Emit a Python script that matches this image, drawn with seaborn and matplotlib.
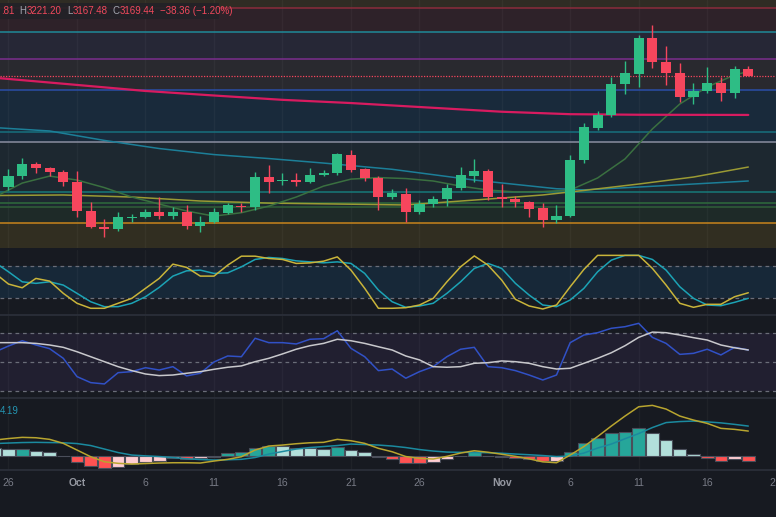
import numpy as np
import pandas as pd
import matplotlib
matplotlib.use("Agg")
import matplotlib.pyplot as plt
import matplotlib.dates as mdates
from matplotlib.patches import Rectangle
import seaborn as sns

# ---- data: daily candles Sep 25 .. Nov 19 ----
dates = pd.date_range("2024-09-25", "2024-11-19", freq="D")

opens = [2661, 2581, 2639, 2703, 2682, 2661,
         2608, 2454, 2369, 2358, 2417, 2422, 2448, 2427, 2448, 2374,
         2395, 2443, 2480, 2475, 2634, 2613, 2618, 2610, 2646, 2654,
         2752, 2675, 2627, 2530, 2544, 2447, 2489, 2516, 2574, 2641, 2666,
         2530, 2517, 2500, 2468, 2406, 2429, 2724, 2895, 2963, 3125,
         3180, 3369, 3242, 3187, 3060, 3091, 3134, 3078, 3207.80]
highs = [2671, 2676, 2735, 2714, 2687, 2671,
         2666, 2502, 2411, 2448, 2438, 2464, 2528, 2475, 2486, 2427,
         2470, 2496, 2496, 2660, 2698, 2655, 2655, 2682, 2671, 2763,
         2777, 2680, 2639, 2569, 2574, 2512, 2533, 2597, 2689, 2728, 2675,
         2597, 2533, 2507, 2498, 2486, 2751, 2922, 2985, 3162, 3249,
         3387, 3440, 3328, 3240, 3134, 3219, 3162, 3224, 3221.20]
lows = [2570, 2565, 2623, 2655, 2639, 2586,
        2422, 2364, 2316, 2348, 2395, 2417, 2411, 2411, 2358, 2342,
        2390, 2440, 2448, 2459, 2549, 2592, 2586, 2604, 2641, 2645,
        2662, 2614, 2459, 2516, 2397, 2438, 2473, 2480, 2565, 2609, 2512,
        2477, 2477, 2420, 2367, 2389, 2424, 2707, 2883, 2954, 3074,
        3113, 3210, 3122, 3033, 3021, 3078, 3038, 3054, 3167.48]
closes = [2581, 2639, 2703, 2682, 2661, 2608,
          2454, 2369, 2357, 2422, 2419, 2448, 2427, 2448, 2374, 2395,
          2448, 2486, 2475, 2634, 2608, 2618, 2610, 2646, 2657, 2754,
          2671, 2627, 2530, 2548, 2447, 2491, 2516, 2574, 2645, 2666, 2526,
          2517, 2500, 2464, 2406, 2429, 2724, 2897, 2964, 3127, 3184,
          3369, 3242, 3187, 3060, 3091, 3134, 3078, 3206, 3169.44]

# moving averages on the price panel
ma200_dates = ["2024-09-25", "2024-10-01", "2024-10-06", "2024-10-11", "2024-10-16", "2024-10-21",
               "2024-10-26", "2024-11-01", "2024-11-06", "2024-11-11", "2024-11-19"]
ma200 = [3160, 3122, 3090, 3066, 3043, 3026, 3005, 2980, 2967, 2964, 2963]

ma100_dates = ["2024-09-25", "2024-09-29", "2024-10-03", "2024-10-07", "2024-10-11", "2024-10-15",
               "2024-10-19", "2024-10-24", "2024-10-30", "2024-11-05", "2024-11-07", "2024-11-11",
               "2024-11-15", "2024-11-19"]
ma100 = [2896, 2878, 2828, 2785, 2753, 2732, 2708, 2675, 2618, 2572, 2566, 2581, 2597, 2613]

ma50_dates = ["2024-09-25", "2024-09-30", "2024-10-05", "2024-10-10", "2024-10-15", "2024-10-20",
              "2024-10-25", "2024-10-30", "2024-11-04", "2024-11-07", "2024-11-11", "2024-11-15",
              "2024-11-19"]
ma50 = [2536, 2539, 2528, 2507, 2496, 2491, 2486, 2512, 2539, 2563, 2597, 2634, 2687]

ma20_dates = ["2024-09-25", "2024-09-27", "2024-09-29", "2024-10-01", "2024-10-03", "2024-10-05",
              "2024-10-07", "2024-10-09", "2024-10-11", "2024-10-13", "2024-10-15", "2024-10-17",
              "2024-10-19", "2024-10-21", "2024-10-23", "2024-10-25", "2024-10-27", "2024-10-29",
              "2024-10-31", "2024-11-02", "2024-11-04", "2024-11-06", "2024-11-08", "2024-11-10",
              "2024-11-12", "2024-11-14", "2024-11-16", "2024-11-18", "2024-11-19"]
ma20 = [2528, 2602, 2639, 2618, 2578, 2528, 2491, 2454, 2427, 2445, 2480, 2528, 2586, 2623,
        2631, 2626, 2613, 2586, 2565, 2555, 2557, 2565, 2629, 2730, 2889, 3021, 3111, 3175, 3193]

# horizontal levels and shaded zones
levels = [3528, 3401, 3258, 3094, 2875, 2822, 2556, 2498, 2474, 2389]
zone_edges = [3572, 3528, 3401, 3258, 3094, 2822, 2474, 2389, 2258]
last_close = 3169.44

# stochastic
stoch_k = [67, 46.6, 39.7, 57.1, 52.1, 29.3,
           10.8, 1.5, 1.5, 10.8, 20, 38.6, 57.1, 83.7, 77.6, 61.4,
           61.4, 81.8, 98.5, 98.5, 94.2, 92.4, 85, 86, 89.2, 97.2,
           72.5, 38.6, 1.5, 1.5, 2.6, 7.6, 20, 50.8, 78.7, 99, 81.8,
           54, 18.2, 5.8, 0.2, 7.6, 41.6, 73.8, 100, 100, 100,
           100, 75.7, 44.7, 10.8, 3.3, 8.9, 8.9, 23, 30.4]
stoch_d = [87, 69.4, 50.8, 47.9, 50.8, 44.7,
           29.3, 13.7, 4.5, 4.5, 10.8, 23, 40.4, 61.4, 71.2, 72.5,
           66.4, 67.5, 78.7, 92.4, 96.1, 94.2, 89.8, 87.9, 86.1, 87.9,
           85, 66.4, 35.4, 13.7, 3.3, 5.8, 10.8, 29.3, 50.8, 75.7, 85,
           75.7, 47.9, 26.2, 7.6, 4.5, 16.9, 38.6, 69.4, 91.1, 100,
           100, 92.4, 72.5, 41.6, 20, 7.6, 6.3, 12.6, 20]

# RSI and its moving average
rsi = [56.8, 60.9, 64.5, 61.6, 59.1, 52.5,
       40, 35.9, 35, 42.7, 43.4, 46.1, 44.5, 46.8, 40.5, 42.3,
       50, 54.1, 53.6, 66.2, 63.2, 63.2, 62.3, 65.5, 65.9, 71.3,
       59.3, 53.6, 44.1, 45.2, 38.9, 43.4, 46.8, 53.6, 58.7, 60, 46.8,
       46.1, 44.1, 41.1, 37.7, 41.1, 63.2, 68.4, 70, 73, 74.1,
       76.4, 66.8, 62.7, 55.2, 55.9, 58.7, 54.8, 60, 58.2]
rsi_ma = [63.2, 63.2, 63.2, 62.7, 61.6, 60,
          57, 53.6, 50.2, 46.8, 44.1, 41.8, 40.7, 41.1, 42.3, 43.4,
          45, 46.4, 47.3, 50.2, 52.5, 55.5, 58.7, 61.1, 62.7, 65.5,
          64.5, 62.7, 60.4, 58.2, 54.1, 51.4, 46.8, 46.4, 46.8, 49.1, 49.5,
          50.7, 50.2, 49.1, 46.8, 45.2, 45.7, 49.1, 52.5, 56.3, 61.1,
          66.8, 70.4, 70, 68.4, 66.6, 65, 61.6, 59.7, 58.2]

# MACD
macd = [60, 65.8, 70.4, 68.9, 62.7, 47.2,
        21.3, -4.6, -24, -30.2, -32.9, -31, -29, -27.9, -27.9, -29,
        -21.3, -14.7, -4.6, 21.3, 36.8, 40.6, 45.7, 49.5, 51.1, 62.7,
        57.3, 47.2, 27.9, 14.7, -3.9, -10.8, -13.5, -3.1, 9.7, 18.6, 12.8,
        5, -3.1, -12.8, -24.4, -27.9, 1.9, 34.8, 73.5, 114.2, 152.9,
        188.9, 194.3, 180, 152.9, 137.4, 124.6, 105.3, 101.4, 94.8]
signal = [46.4, 48.4, 50.3, 51.1, 50.3, 49.5,
          46.4, 38.7, 25.2, 11.6, 1.9, -1.2, -3.9, -7.7, -12.4, -15.5,
          -17.4, -16.3, -14.7, -7.7, 5.8, 15.5, 25.2, 31, 34.8, 38.7,
          44.5, 42.6, 40.6, 36.8, 31, 23.2, 17.4, 13.5, 12.4, 12.4, 10.8,
          8.9, 5.8, 3.1, 0, -3.9, -1.9, 9.7, 29, 44.5, 65,
          85.1, 108.4, 127.7, 131.6, 133.5, 130.4, 126.5, 120.7, 114.19]
hist = [28, 24, 25, 18.7, 13.5, -2,
        -24, -40.6, -49.7, -43.3, -32.9, -24, -20, -11, -13.5, -11,
        -4.6, 8.4, 14.7, 30.3, 36.8, 35.5, 29, 27.9, 26.5, 34.2,
        21.3, 12.4, -7, -14.7, -27.7, -28.5, -24, -13.5, -2, 13.5, -1.5,
        -7, -11, -14.7, -21.3, -20.3, 14.7, 47.2, 66.6, 85.9, 92.1,
        105.3, 85.9, 60, 24, 5.8, -8.5, -20, -14.7, -20]

tick_dates = ["2024-09-26", "2024-10-01", "2024-10-06", "2024-10-11", "2024-10-16", "2024-10-21",
              "2024-10-26", "2024-11-01", "2024-11-06", "2024-11-11", "2024-11-16", "2024-11-21"]
tick_labels = ["26", "Oct", "6", "11", "16", "21", "26", "Nov", "6", "11", "16", "21"]

# ---- styling ----
BG = "#171a21"
sns.set_theme(style="dark", rc={"figure.facecolor": BG, "axes.facecolor": BG,
                                "axes.edgecolor": "#2a2e39", "text.color": "#787b86"})
plt.rcParams["font.family"] = ["Liberation Sans", "DejaVu Sans"]

W, H = 776, 517
fig = plt.figure(figsize=(W / 100, H / 100), dpi=100)


def panel(top, bottom):
    return fig.add_axes([0, 1 - bottom / H, 1, (bottom - top) / H])


ax_p = panel(0, 248)
ax_s = panel(250, 315)
ax_r = panel(316, 398)
ax_m = panel(399, 470)

xd = mdates.date2num(dates)
day0 = mdates.date2num(pd.Timestamp("2024-09-26"))
xlim = (day0 - 8.5 / 13.7, day0 + (W - 8.5) / 13.7)
tick_x = mdates.date2num(pd.to_datetime(tick_dates))

for ax in (ax_p, ax_s, ax_r, ax_m):
    ax.set_xlim(*xlim)
    ax.set_xticks([])
    ax.set_yticks([])
    for s in ax.spines.values():
        s.set_visible(False)
    for t in tick_x:
        ax.axvline(t, color="#ffffff", alpha=0.035, lw=1, zorder=1)
for ax in (ax_s, ax_r, ax_m):
    ax.spines["bottom"].set_visible(True)
    ax.spines["bottom"].set_color("#2c303b")
    ax.spines["bottom"].set_linewidth(1.2)

# ---- price panel ----
ax_p.set_ylim(zone_edges[-1], zone_edges[0])
zone_colors = ["#2f2c24", "#2e2229", "#262736", "#29292f", "#192a3b", "#1d2830", "#1e2a28", "#312e21"]
for hi, lo, c in zip(zone_edges[:-1], zone_edges[1:], zone_colors):
    ax_p.axhspan(lo, hi, color=c, lw=0, zorder=0)

level_colors = ["#8a2c3c", "#1f8a99", "#7b2d8e", "#2a4ea8", "#17707e", "#8a8ea0",
                "#177a7a", "#2f6b3c", "#2f5f38", "#c8841c"]
for lv, c in zip(levels, level_colors):
    ax_p.axhline(lv, color=c, lw=1.1, zorder=1.5)

sns.lineplot(x=mdates.date2num(pd.to_datetime(ma100_dates)), y=ma100, ax=ax_p,
             color="#1c7f98", lw=1.1, zorder=2)
sns.lineplot(x=mdates.date2num(pd.to_datetime(ma50_dates)), y=ma50, ax=ax_p,
             color="#9a9a34", lw=1.1, zorder=2)
sns.lineplot(x=mdates.date2num(pd.to_datetime(ma20_dates)), y=ma20, ax=ax_p,
             color="#3a7040", lw=1.1, zorder=2)
sns.lineplot(x=mdates.date2num(pd.to_datetime(ma200_dates)), y=ma200, ax=ax_p,
             color="#d81b60", lw=1.6, zorder=2.5)

ax_p.axhline(last_close, color="#f6465d", lw=0.9, ls=(0, (1, 1.2)), zorder=2.6)

o = np.array(opens); h = np.array(highs); l = np.array(lows); c = np.array(closes)
up = c >= o
col = np.where(up, "#2ebd85", "#f6465d")
ax_p.vlines(xd, l, h, colors=col, lw=1, zorder=3)
body_lo = np.minimum(o, c)
body_h = np.maximum(np.abs(c - o), 4)
ax_p.bar(xd, body_h, bottom=body_lo, width=0.74, color=col, lw=0, zorder=4)
ax_p.set_xlim(*xlim)

# ---- stochastic ----
ax_s.set_ylim(-11, 110)
ax_s.axhspan(20, 80, color="#172838", lw=0, zorder=0)
for lv in (20, 80):
    ax_s.axhline(lv, color="#6a6d78", lw=0.9, ls=(0, (3, 3)), zorder=1)
sns.lineplot(x=xd, y=stoch_d, ax=ax_s, color="#1ca3b5", lw=1.1, zorder=3)
sns.lineplot(x=xd, y=stoch_k, ax=ax_s, color="#c9b43a", lw=1.1, zorder=3)
ax_s.set_xlim(*xlim)

# ---- RSI ----
ax_r.set_ylim(25.4, 81.4)
ax_r.axhspan(30, 70, color="#211f30", lw=0, zorder=0)
for lv in (30, 50, 70):
    ax_r.axhline(lv, color="#6a6d78", lw=0.9, ls=(0, (3, 3)), zorder=1)
sns.lineplot(x=xd, y=rsi, ax=ax_r, color="#3151c6", lw=1.1, zorder=3)
sns.lineplot(x=xd, y=rsi_ma, ax=ax_r, color="#c8c8cc", lw=1.1, zorder=3)
ax_r.set_xlim(*xlim)

# ---- MACD ----
ax_m.set_ylim(-56, 219)
hv = np.array(hist)
prev = np.concatenate([[hv[0]], hv[:-1]])
hcol = np.where(hv >= 0,
                np.where(hv > prev, "#26a69a", "#b2dfdb"),
                np.where(hv < prev, "#ff5252", "#ffcdd2"))
ax_m.bar(xd, hv, width=0.93, color=hcol, edgecolor="#4a4e5a", lw=0.8, zorder=2)
sns.lineplot(x=xd, y=signal, ax=ax_m, color="#1b8a9f", lw=1.1, zorder=3)
sns.lineplot(x=xd, y=macd, ax=ax_m, color="#b8a52f", lw=1.1, zorder=3)
ax_m.set_xlim(*xlim)
ax_m.set_xticks(tick_x)
ax_m.set_xticklabels(tick_labels)
ax_m.tick_params(axis="x", length=0, pad=6, labelsize=7.5, colors="#787b86")
for t in ax_m.get_xticklabels():
    if t.get_text() in ("Oct", "Nov"):
        t.set_color("#9598a1")
        t.set_fontweight("bold")
for ax in (ax_p, ax_s, ax_r, ax_m):
    ax.set_xlabel("")
    ax.set_ylabel("")

# ---- header text (placed piece by piece) ----
fig.add_artist(Rectangle((0, 1 - 18.5 / H), 219 / W, 15.5 / H, transform=fig.transFigure,
                         facecolor="#222127", alpha=0.9, lw=0, zorder=5))
red, grey = "#f2495c", "#a3a6af"
pieces = [(".81", red, 5), ("H", grey, 0.5), ("3221.20", red, 5), ("L", grey, 0.5),
          ("3167.48", red, 5), ("C", grey, 0.5), ("3169.44", red, 5),
          ("\u221238.36 (\u22121.20%)", red, 0)]
renderer = fig.canvas.get_renderer()
xpos = 1.0
for txt, cc, gap in pieces:
    t = fig.text(xpos / W, 1 - 11.5 / H, txt, color=cc, fontsize=7, va="center", ha="left", zorder=6)
    xpos = t.get_window_extent(renderer).x1 + gap
fig.text(0 / W, 1 - 410.7 / H, "4.19", color="#2496b3", fontsize=7, va="center", ha="left")

fig.savefig("out.png", dpi=100, facecolor=BG)
